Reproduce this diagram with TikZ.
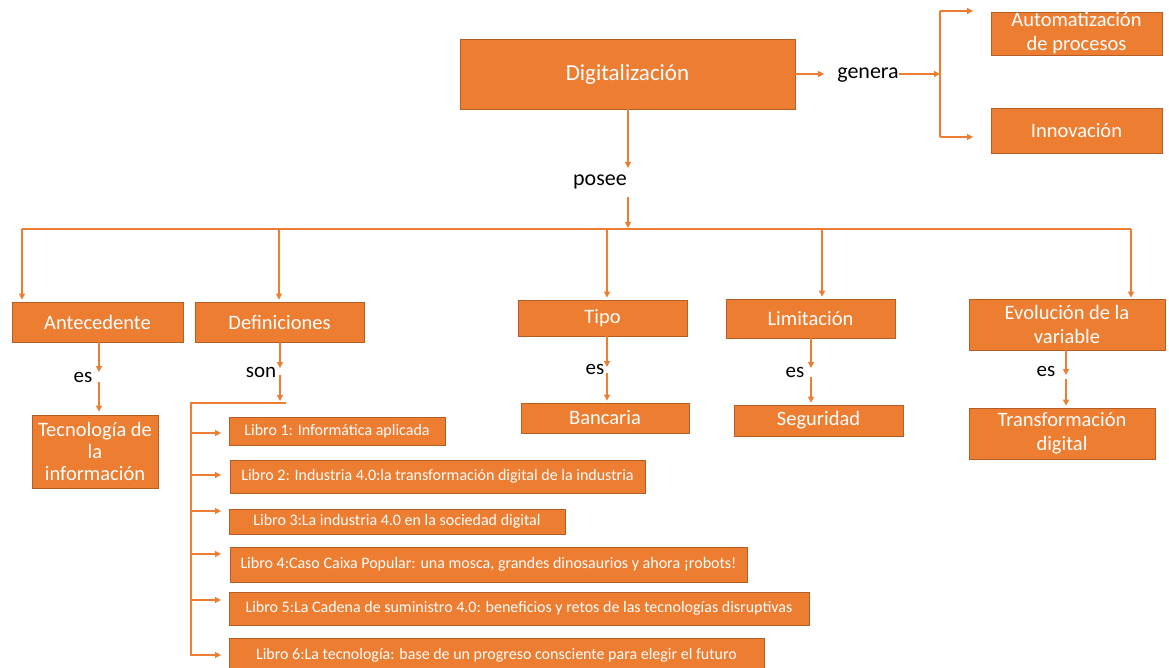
\documentclass[tikz,border=0pt]{standalone}
\usepackage{fontspec}
\setmainfont{Carlito}
\usetikzlibrary{arrows.meta}
\definecolor{org}{HTML}{ED7D31}
\definecolor{orgd}{HTML}{B25E24}
\newcommand\mkbox[7][box]{\node[#1, minimum width={#5-#3}, minimum height={#6-#4}] (#2) at ({(#3+#5)/2},{(#4+#6)/2}) {#7};}
\begin{document}
\begin{tikzpicture}[x=1pt,y=-1pt,
  box/.style={draw=orgd, fill=org, line width=0.8pt, text=white, inner sep=0pt, align=center, font=\fontsize{20.5}{24}\selectfont},
  mainbox/.style={box, font=\fontsize{23}{26}\selectfont},
  libro/.style={box, font=\fontsize{16}{18}\selectfont},
  tecbox/.style={box, font=\fontsize{20.5}{22}\selectfont},
  lbl/.style={inner sep=0pt, text=black, font=\fontsize{21}{24}\selectfont},
  ln/.style={draw=org, line width=1.2pt},
  arr/.style={ln, -{Triangle[length=6pt,width=6pt]}}]
\useasboundingbox (0,0) rectangle (1169,668);
% top
\mkbox[mainbox]{digi}{460}{39}{795}{109}{Digitalización}
\mkbox{auto}{991}{12}{1162}{55}{Automatización\\de procesos}
\mkbox{inno}{991}{108}{1162}{153}{Innovación}
\node[lbl, font=\fontsize{22}{24}\selectfont] (gen) at (868,75) {genera};
\node[lbl, font=\fontsize{22}{24}\selectfont] (posee) at (600,182) {posee};
% second row
\mkbox{ante}{12}{302}{183}{342}{Antecedente}
\mkbox{defi}{195}{302}{364}{342}{Definiciones}
\mkbox{tipo}{518}{300}{687}{336}{Tipo}
\mkbox{limi}{726}{299}{895}{338}{Limitación}
\mkbox{evol}{969}{299}{1165}{350}{Evolución de la\\variable}
% third row
\mkbox[tecbox]{tecn}{32}{415}{158}{488}{Tecnología de\\la\\información}
\mkbox{banc}{521}{403}{689}{433}{Bancaria}
\mkbox{segu}{734}{405}{903}{436}{Seguridad}
\mkbox{tran}{969}{408}{1155}{459}{Transformación\\digital}
\node[lbl] (es1) at (83,377) {es};
\node[lbl] (son) at (261,372) {son};
\node[lbl] (es2) at (595,369) {es};
\node[lbl] (es3) at (795,372) {es};
\node[lbl] (es4) at (1046,371) {es};
% libros
\mkbox[libro]{l1}{229}{417}{445}{445}{Libro 1: Informática aplicada}
\mkbox[libro]{l2}{230}{460}{645}{493}{Libro 2: Industria 4.0:la transformación digital de la industria}
\mkbox[libro]{l3}{229}{509}{565}{534}{Libro 3:La industria 4.0 en la sociedad digital}
\mkbox[libro]{l4}{230}{547}{747}{582}{Libro 4:Caso Caixa Popular: una mosca, grandes dinosaurios y ahora ¡robots!}
\mkbox[libro]{l5}{229}{592}{809}{625}{Libro 5:La Cadena de suministro 4.0: beneficios y retos de las tecnologías disruptivas}
\mkbox[libro]{l6}{229}{638}{764}{672}{Libro 6:La tecnología: base de un progreso consciente para elegir el futuro}
% genera connectors
\coordinate (gsplit) at (940,74);
\coordinate (ga) at (973,11);
\coordinate (gb) at (973,137);
\draw[arr] (digi.east) -- ([xshift=-13pt]digi.east -| gen.west);
\draw[arr] (gen.east |- gsplit) -- (gsplit);
\draw[ln] (ga -| gsplit) -- (gb -| gsplit);
\draw[arr] (ga -| gsplit) -- (ga);
\draw[arr] (gb -| gsplit) -- (gb);
% posee connectors
\coordinate (p1) at (628,168);
\coordinate (p2) at (628,197);
\coordinate (p3) at (628,228);
\draw[arr] (digi.south -| p1) -- (p1);
\draw[arr] (p2) -- (p3);
% bus
\coordinate (bl) at (22,229);
\coordinate (br) at (1131,229);
\coordinate (d2) at (279,229);
\coordinate (d3) at (607,229);
\coordinate (d4) at (822,229);
\draw[ln] (bl) -- (br);
\draw[arr] (bl) -- ([yshift=2pt]bl |- ante.north);
\draw[arr] (d2) -- ([yshift=2pt]d2 |- defi.north);
\draw[arr] (d3) -- ([yshift=2pt]d3 |- tipo.north);
\draw[arr] (d4) -- ([yshift=2pt]d4 |- limi.north);
\draw[arr] (br) -- ([yshift=1pt]br |- evol.north);
% es: antecedente
\coordinate (e1a) at (99,372);
\coordinate (e1b) at (99,382);
\draw[arr] (e1a |- ante.south) -- (e1a);
\draw[arr] (e1b) -- ([yshift=3pt]e1b |- tecn.north);
% son: definiciones
\coordinate (s1) at (280,368);
\coordinate (s2) at (280,375);
\coordinate (s3) at (280,401);
\coordinate (hl) at (191,403);
\coordinate (hr) at (286,403);
\coordinate (vb) at (191,656);
\draw[arr] (s1 |- defi.south) -- (s1);
\draw[arr] (s2) -- (s3);
\draw[ln] (hr) -- (hl) -- (vb);
\coordinate (a1) at (221,433);
\coordinate (a2) at (221,475);
\coordinate (a3) at (221,511);
\coordinate (a4) at (221,554);
\coordinate (a5) at (221,600);
\coordinate (a6) at (221,655);
\draw[arr] (a1 -| hl) -- (a1);
\draw[arr] (a2 -| hl) -- (a2);
\draw[arr] (a3 -| hl) -- (a3);
\draw[arr] (a4 -| hl) -- (a4);
\draw[arr] (a5 -| hl) -- (a5);
\draw[arr] (a6 -| hl) -- (a6);
% es: tipo
\coordinate (t1) at (607,367);
\coordinate (t2) at (607,373);
\draw[arr] (t1 |- tipo.south) -- (t1);
\draw[arr] (t2) -- ([yshift=2pt]t2 |- banc.north);
% es: limitacion
\coordinate (m1) at (811,368);
\coordinate (m2) at (811,377);
\draw[arr] (m1 |- limi.south) -- (m1);
\draw[arr] (m2) -- ([yshift=2pt]m2 |- segu.north);
% es: evolucion
\coordinate (v1) at (1066,375);
\coordinate (v2) at (1066,379);
\draw[arr] (v1 |- evol.south) -- (v1);
\draw[arr] (v2) -- ([yshift=2pt]v2 |- tran.north);
\end{tikzpicture}
\end{document}
